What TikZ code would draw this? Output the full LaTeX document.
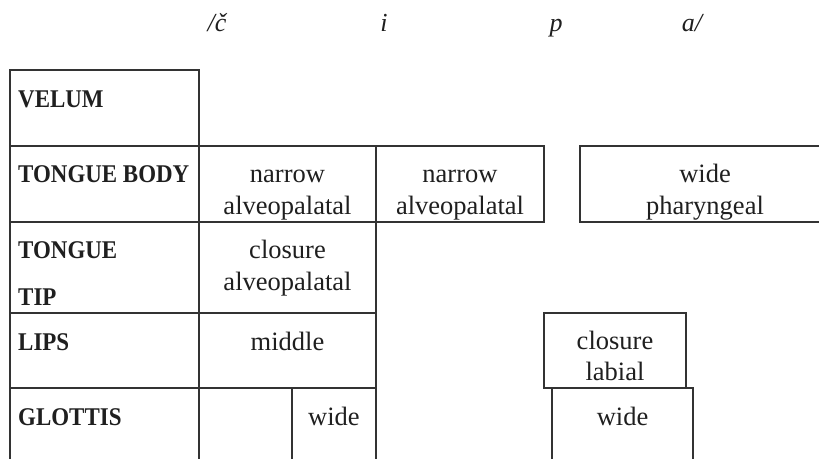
\documentclass[tikz,border=0pt]{standalone}
\usepackage{fontspec}
\setmainfont{Liberation Serif}
\newfontfamily\labfont[FakeStretch=0.9]{Liberation Serif Bold}
\begin{document}
\begin{tikzpicture}[x=1pt,y=-1pt,
  grid/.style={draw=black!80, line width=1.3pt, line cap=rect},
  txt/.style={anchor=base, inner sep=0pt, text=black!88, font=\fontsize{26.5}{30}\selectfont},
  hdr/.style={anchor=base west, inner sep=0pt, text=black!88, font=\labfont\fontsize{25.5}{30}\selectfont},
  seg/.style={anchor=base, inner sep=0pt, text=black!88, font=\itshape\fontsize{26}{30}\selectfont}]
\useasboundingbox[fill=white] (0,0) rectangle (819,458);
% grid lines
\draw[grid] (10,458) -- (10,70) -- (199,70) -- (199,458);
\draw[grid] (10,146) -- (544,146);
\draw[grid] (10,222) -- (544,222);
\draw[grid] (376,146) -- (376,458);
\draw[grid] (544,146) -- (544,222);
\draw[grid] (10,313) -- (376,313);
\draw[grid] (10,388) -- (376,388);
\draw[grid] (292,388) -- (292,458);
\draw[grid] (819,146) -- (580,146) -- (580,222) -- (819,222);
\draw[grid] (544,313) rectangle (686,388);
\draw[grid] (552,458) -- (552,388) -- (693,388) -- (693,458);
% segment labels
\node[seg] (s1) at (217,31) {/č};
\node[seg] (s2) at (384,31) {i};
\node[seg] (s3) at (556,31) {p};
\node[seg] (s4) at (692,31) {a/};
% row headers
\node[hdr] (h1) at (18,107) {VELUM};
\node[hdr] (h2) at (18,182) {TONGUE BODY};
\node[hdr] (h3a) at (18,258) {TONGUE};
\node[hdr] (h3b) at (18,305) {TIP};
\node[hdr] (h4) at (18,350) {LIPS};
\node[hdr] (h5) at (18,425) {GLOTTIS};
% cells
\node[txt] (n1a) at (287.5,182) {narrow};
\node[txt] (n1b) at (287.5,214) {alveopalatal};
\node[txt] (n2a) at (460,182) {narrow};
\node[txt] (n2b) at (460,214) {alveopalatal};
\node[txt] (w1a) at (705,182) {wide};
\node[txt] (w1b) at (705,214) {pharyngeal};
\node[txt] (c1a) at (287.5,258) {closure};
\node[txt] (c1b) at (287.5,290) {alveopalatal};
\node[txt] (m1) at (287.5,350) {middle};
\node[txt] (c2a) at (615,349) {closure};
\node[txt] (c2b) at (615,380) {labial};
\node[txt] (g1) at (334,425) {wide};
\node[txt] (g2) at (622.5,425) {wide};
\end{tikzpicture}
\end{document}
